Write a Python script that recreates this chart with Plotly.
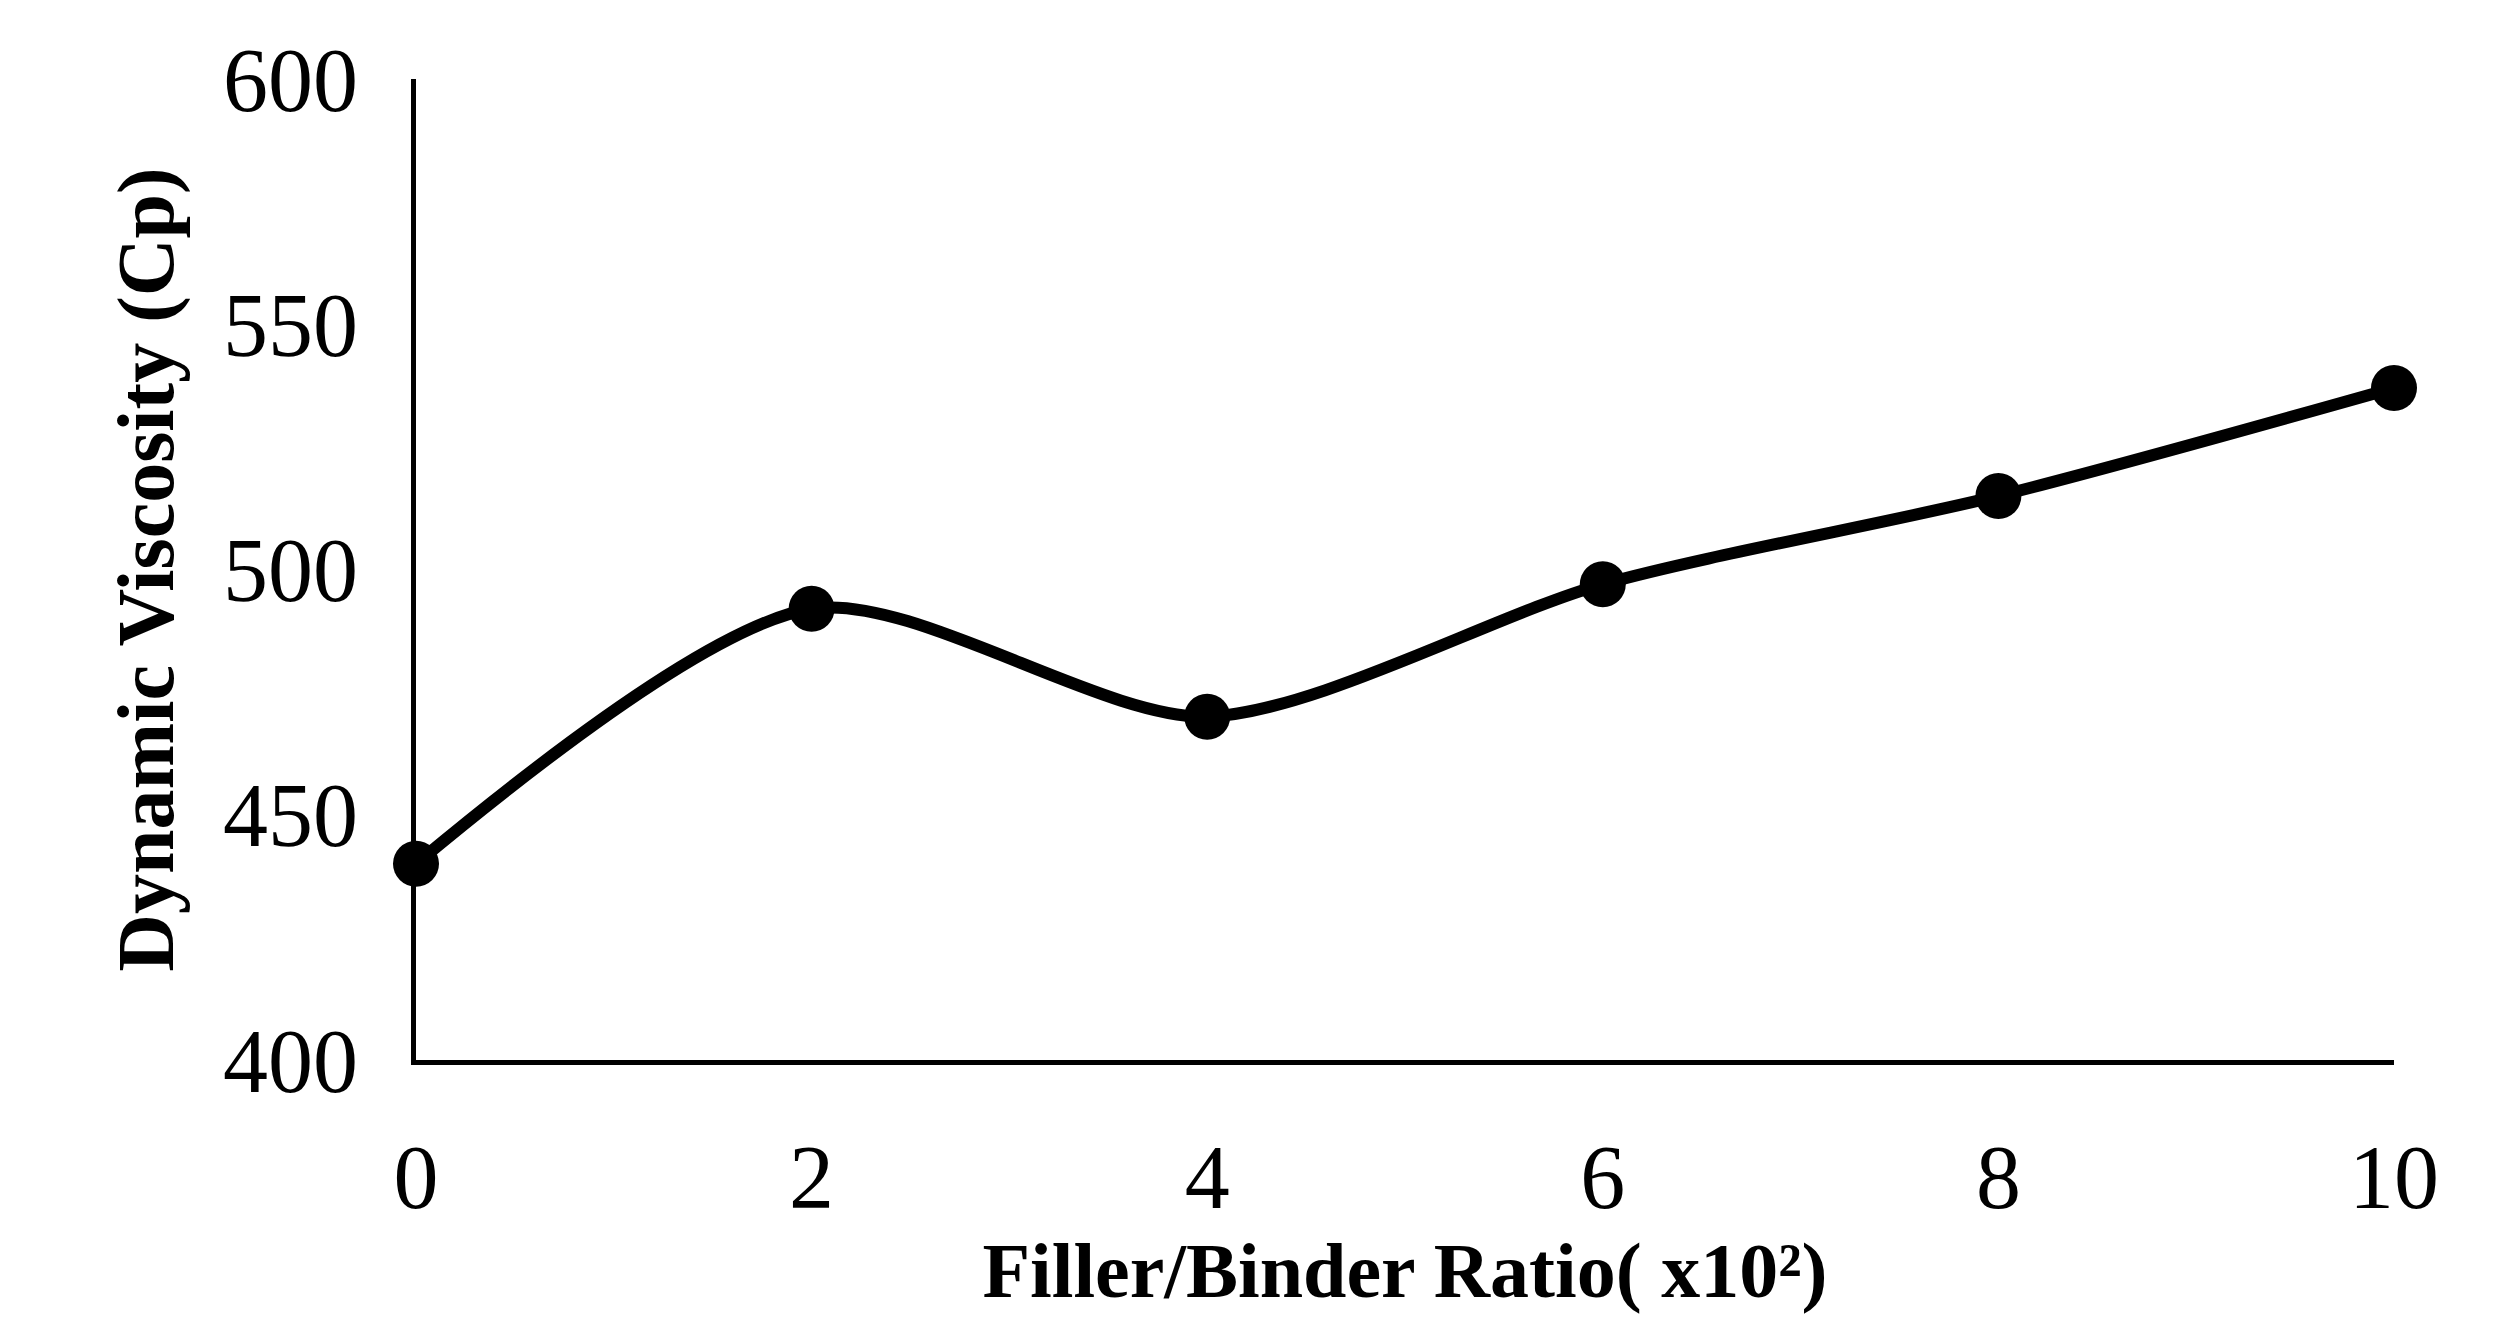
import plotly.graph_objects as go

ratio = [0, 2, 4, 6, 8, 10]
viscosity = [440, 492, 470, 497, 515, 537]

fig = go.Figure(go.Scatter(
    x=ratio, y=viscosity, mode="lines+markers",
    line=dict(color="black", width=12, shape="spline", smoothing=0.8),
    marker=dict(color="black", size=46),
    cliponaxis=False,
))

font = "Liberation Serif"
fig.update_layout(
    width=2493, height=1335,
    paper_bgcolor="white", plot_bgcolor="white",
    margin=dict(l=408, r=107, t=71, b=283),
    showlegend=False,
    font=dict(family=font, color="black"),
)
fig.update_xaxes(
    range=[0, 10], tickvals=ratio, showgrid=False, zeroline=False,
    showline=True, linecolor="black", linewidth=5,
    tickfont=dict(size=90), ticklabelstandoff=35,
    title=dict(text="<b>Filler/Binder Ratio( x10²)</b>", font=dict(size=78), standoff=10),
)
fig.update_yaxes(
    range=[400, 600], tickvals=[400, 450, 500, 550, 600], showgrid=False, zeroline=False,
    showline=True, linecolor="black", linewidth=5,
    tickfont=dict(size=90), ticklabelstandoff=35,
    title=dict(text="<b>Dynamic Viscosity (Cp)</b>", font=dict(size=80), standoff=25),
)

fig.write_html("out.html")
